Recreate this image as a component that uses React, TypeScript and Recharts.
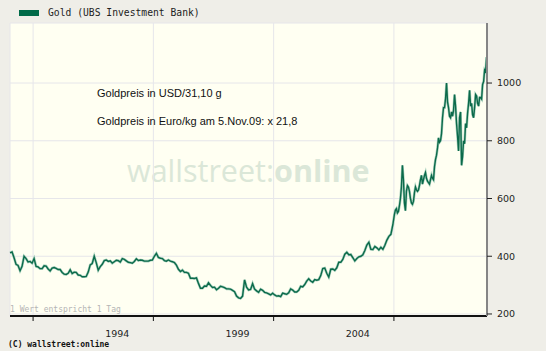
import React from "react";
import { LineChart, Line, XAxis, YAxis, CartesianGrid } from "recharts";

const seriesName = "Gold (UBS Investment Bank)";
const gridYears = [1991, 1996, 2001, 2006];
const labelYears = [1994, 1999, 2004];
const priceTicks = [200, 400, 600, 800, 1000];
const notes = ["Goldpreis in USD/31,10 g", "Goldpreis in Euro/kg am 5.Nov.09: x 21,8"];

// monthly prices, Jan 1990 .. Dec 2005
const monthly1990 = [
  412, 415, 395, 372, 368, 350, 365, 400, 392, 380, 382, 376,
  392, 365, 363, 357, 357, 367, 366, 356, 349, 359, 361, 358,
  354, 354, 344, 338, 337, 341, 353, 340, 345, 344, 335, 334,
  329, 329, 330, 345, 370, 375, 400, 378, 352, 364, 372, 385,
  387, 382, 384, 376, 381, 386, 385, 380, 392, 389, 384, 379,
  378, 376, 382, 391, 385, 387, 386, 383, 383, 383, 386, 387,
  400, 410, 396, 393, 392, 385, 383, 387, 383, 381, 378, 369,
  355, 347, 352, 344, 344, 341, 324, 324, 323, 325, 306, 289,
  289, 297, 296, 308, 299, 292, 293, 284, 289, 296, 294, 291,
  287, 287, 286, 282, 277, 262, 256, 254, 262, 318, 293, 283,
  285, 305, 286, 280, 275, 286, 282, 275, 273, 270, 266, 272,
  266, 262, 263, 260, 272, 270, 268, 273, 287, 283, 276, 276,
  282, 296, 294, 302, 314, 322, 314, 310, 319, 317, 319, 333,
  357, 359, 341, 328, 355, 356, 351, 360, 379, 379, 389, 407,
  414, 405, 406, 395, 384, 392, 398, 400, 405, 420, 439, 448,
  424, 423, 434, 429, 422, 431, 424, 438, 456, 469, 476, 510,
];

// half-monthly prices, Jan 2006 .. early Nov 2009
const halfMonthly2006 = [
  545, 560, 565, 550, 555, 575, 600, 640, 715, 665, 585, 558,
  625, 645, 640, 625, 600, 585, 580, 590, 620, 640, 630, 625,
  630, 645, 665, 680, 650, 665, 680, 690, 670, 660, 655, 650,
  665, 680, 670, 665, 710, 735, 750, 775, 810, 795, 800, 825,
  880, 915, 915, 945, 1000, 935, 915, 885, 880, 900, 885, 905,
  960, 920, 860, 815, 765, 880, 900, 715, 745, 800, 790, 860,
  845, 895, 930, 975, 920, 930, 890, 880, 915, 960, 955, 930,
  920, 950, 950, 945, 995, 1005, 1045, 1040, 1090,
];

const data = [
  ...monthly1990.map((price, i) => ({ t: 1990 + (i + 0.5) / 12, price })),
  ...halfMonthly2006.map((price, i) => ({ t: 2006 + (i + 0.5) / 24, price })),
];

const lineColor = "#0b6a4a";
const mono = "'DejaVu Sans Mono', monospace";

export default function App() {
  return (
    <div
      style={{
        position: "absolute",
        left: 0,
        top: 0,
        width: 546,
        height: 351,
        background: "#efeee8",
        overflow: "hidden",
      }}
    >
      {/* plot background + watermark sit behind the svg */}
      <div style={{ position: "absolute", left: 10, top: 23, width: 477, height: 293, background: "#fffff2" }} />
      <div
        style={{
          position: "absolute",
          left: 127,
          top: 149,
          fontFamily: "'Open Sans', sans-serif",
          fontSize: 30.5,
          color: "#dbe7d8",
          whiteSpace: "nowrap",
        }}
      >
        wallstreet:<span style={{ fontWeight: 700 }}>online</span>
      </div>

      <LineChart
        width={546}
        height={351}
        data={data}
        margin={{ top: 23, right: 9, left: 10, bottom: 9 }}
        style={{ position: "absolute", left: 0, top: 0 }}
      >
        <CartesianGrid stroke="#e6e6ea" xAxisId="grid" />
        <XAxis
          xAxisId="grid"
          dataKey="t"
          type="number"
          domain={[1990.04, 2009.87]}
          ticks={gridYears}
          tick={() => <g />}
          tickSize={5}
          height={6}
          axisLine={{ stroke: "#111", strokeWidth: 2 }}
          tickLine={{ stroke: "#111" }}
        />
        <XAxis
          xAxisId="labels"
          dataKey="t"
          type="number"
          domain={[1990.04, 2009.87]}
          ticks={labelYears.map((y) => y + 0.5)}
          tickFormatter={(v: number) => String(Math.floor(v))}
          axisLine={false}
          tickLine={false}
          tickSize={0}
          tickMargin={8}
          height={20}
          tick={{ fontFamily: "'DejaVu Sans', sans-serif", fontSize: 9.5, fill: "#1e1e1e" }}
        />
        <YAxis
          orientation="right"
          type="number"
          domain={[193, 1208]}
          ticks={priceTicks}
          width={50}
          tickSize={5}
          tickMargin={5}
          axisLine={{ stroke: "#858585", strokeWidth: 2 }}
          tickLine={{ stroke: "#222" }}
          tick={{ fontFamily: "'DejaVu Sans', sans-serif", fontSize: 9.5, fill: "#1e1e1e", textAnchor: "start" }}
        />
        <Line
          xAxisId="grid"
          type="linear"
          dataKey="price"
          stroke="#a8d0bd"
          strokeWidth={2.6}
          dot={false}
          activeDot={false}
          legendType="none"
          isAnimationActive={false}
        />
        <Line
          xAxisId="grid"
          type="linear"
          dataKey="price"
          stroke={lineColor}
          strokeWidth={1.4}
          dot={false}
          isAnimationActive={false}
        />
      </LineChart>

      {/* legend */}
      <div style={{ position: "absolute", left: 19, top: 10, width: 20, height: 6, background: "#006a48" }} />
      <div style={{ position: "absolute", left: 48, top: 7, fontFamily: mono, fontSize: 9.7, color: "#222", whiteSpace: "nowrap" }}>
        {seriesName}
      </div>

      {/* notes */}
      {notes.map((n, i) => (
        <div
          key={n}
          style={{
            position: "absolute",
            left: 97,
            top: 87 + i * 27.5,
            fontFamily: "'Liberation Sans', Arial, sans-serif",
            fontSize: 11,
            color: "#111",
            whiteSpace: "nowrap",
          }}
        >
          {n}
        </div>
      ))}

      <div style={{ position: "absolute", left: 10, top: 305, fontFamily: mono, fontSize: 8, color: "#b5b5b5", whiteSpace: "nowrap" }}>
        1 Wert entspricht 1 Tag
      </div>
      <div
        style={{ position: "absolute", left: 8, top: 340, fontFamily: mono, fontSize: 8, fontWeight: 700, color: "#111", whiteSpace: "nowrap" }}
      >
        (C) wallstreet:online
      </div>
    </div>
  );
}
